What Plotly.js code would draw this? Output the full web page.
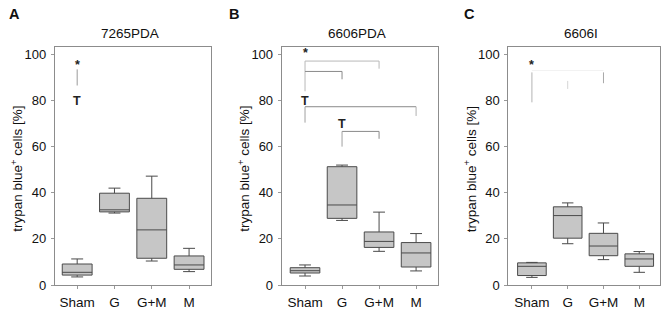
<!DOCTYPE html>
<html>
<head>
<meta charset="utf-8">
<script src="https://cdn.plot.ly/plotly-3.0.1.min.js"></script>
<style>html,body{margin:0;padding:0;background:#fff;}#chart{width:669px;height:311px;}</style>
</head>
<body>
<div id="chart"></div>
<script>
// ---- data ----
var categories = ["Sham", "G", "G+M", "M"];
var panelTitles = ["7265PDA", "6606PDA", "6606I"];
var panelLetters = ["A", "B", "C"];
var yTickVals = [0, 20, 40, 60, 80, 100];

// Panel A (7265PDA)
var A_lower  = [3.5, 31.2, 10.4, 5.8];
var A_q1     = [4.3, 31.7, 11.6, 6.8];
var A_median = [5.5, 32.6, 23.9, 8.7];
var A_q3     = [9.1, 39.8, 37.6, 12.6];
var A_upper  = [11.3, 42.0, 47.2, 15.9];

// Panel B (6606PDA)
var B_lower  = [3.9, 28.0, 14.6, 6.1];
var B_q1     = [5.2, 28.9, 16.3, 7.8];
var B_median = [6.2, 34.7, 18.9, 13.9];
var B_q3     = [7.5, 51.3, 23.0, 18.4];
var B_upper  = [8.7, 52.0, 31.6, 22.3];

// Panel C (6606I)
var C_lower  = [3.3, 17.9, 11.0, 5.5];
var C_q1     = [4.1, 20.3, 12.7, 8.1];
var C_median = [8.1, 30.1, 16.9, 11.3];
var C_q3     = [9.6, 33.9, 22.4, 13.5];
var C_upper  = [9.8, 35.6, 26.9, 14.5];

// significance marks: [panel, category, y, text]
var sigLabels = [
  [0, "Sham", 95.5, "*"], [0, "Sham", 80, "T"],
  [1, "Sham", 100.5, "*"], [1, "Sham", 80, "T"], [1, "G", 69.8, "T"],
  [2, "Sham", 95.5, "*"]
];
// bracket segments: [panel, x0, y0, x1, y1, colour]
var bracketSegs = [
  [0, "Sham", 93.5, "Sham", 86.5, "#9a9a9a"],
  [1, "Sham", 97.1, "G+M", 97.1, "#b8b8b8"],
  [1, "G+M", 97.1, "G+M", 93.8, "#b8b8b8"],
  [1, "Sham", 97.1, "Sham", 84.0, "#b8b8b8"],
  [1, "Sham", 92.6, "G", 92.6, "#8a8a8a"],
  [1, "G", 92.6, "G", 89.2, "#8a8a8a"],
  [1, "Sham", 77.3, "M", 77.3, "#8a8a8a"],
  [1, "M", 77.3, "M", 73.3, "#b0b0b0"],
  [1, "Sham", 77.3, "Sham", 70.4, "#a0a0a0"],
  [1, "G", 66.6, "G+M", 66.6, "#8a8a8a"],
  [1, "G", 66.6, "G", 60.0, "#a0a0a0"],
  [1, "G+M", 66.6, "G+M", 63.4, "#8a8a8a"],
  [2, "Sham", 92.2, "Sham", 79.2, "#b4b4b4"],
  [2, "Sham", 93.0, "G+M", 93.0, "#f2f2f2"],
  [2, "G", 88.5, "G", 85.0, "#d6d6d6"],
  [2, "G+M", 92.2, "G+M", 87.5, "#a8a8a8"]
];

var stats = [
  [A_lower, A_q1, A_median, A_q3, A_upper],
  [B_lower, B_q1, B_median, B_q3, B_upper],
  [C_lower, C_q1, C_median, C_q3, C_upper]
];

// ---- layout geometry ----
var W = 669, H = 311;
var xPix = [[54.8, 210.7], [281.7, 438.3], [508.3, 660.0]];
var yTop = 47, yBot = 285;
var xRanges = [[-0.6, 3.58], [-0.63, 3.6], [-0.66, 3.58]];

var traces = [];
var layout = {
  width: W, height: H,
  margin: {l: 0, r: 0, t: 0, b: 0},
  paper_bgcolor: "#ffffff", plot_bgcolor: "#ffffff",
  showlegend: false,
  font: {family: "Liberation Sans, Arial, sans-serif", color: "#111"},
  annotations: [], shapes: []
};

for (var p = 0; p < 3; p++) {
  var sfx = p === 0 ? "" : String(p + 1);
  var s = stats[p];
  traces.push({
    type: "box",
    x: categories,
    lowerfence: s[0], q1: s[1], median: s[2], q3: s[3], upperfence: s[4],
    xaxis: "x" + sfx, yaxis: "y" + sfx,
    width: 0.8, whiskerwidth: 0.4,
    fillcolor: "#c6c6c6",
    line: {color: "#4a4a4a", width: 1},
    boxpoints: false, hoverinfo: "skip"
  });
  layout["xaxis" + sfx] = {
    domain: [xPix[p][0] / W, xPix[p][1] / W],
    anchor: "y" + sfx,
    type: "category", categoryorder: "array", categoryarray: categories,
    range: xRanges[p],
    showline: true, mirror: true, linecolor: "#8c8c8c", linewidth: 1,
    ticks: "outside", ticklen: 3, tickcolor: "#999", tickwidth: 1,
    ticklabelstandoff: 2,
    showgrid: false, zeroline: false,
    tickfont: {size: 13.5, color: "#111"}
  };
  layout["yaxis" + sfx] = {
    domain: [1 - yBot / H, 1 - yTop / H],
    anchor: "x" + sfx,
    range: [0, 103.2],
    tickvals: yTickVals,
    showline: true, mirror: true, linecolor: "#8c8c8c", linewidth: 1,
    ticks: "outside", ticklen: 3, tickcolor: "#999", tickwidth: 1,
    ticklabelstandoff: 2,
    showgrid: false, zeroline: false,
    tickfont: {size: 13, color: "#111"}
  };

  // panel title
  layout.annotations.push({
    text: panelTitles[p], xref: "paper", yref: "paper",
    x: (xPix[p][0] + xPix[p][1]) / 2 / W - 3 / W, y: 1 - 33 / H,
    xanchor: "center", yanchor: "middle", showarrow: false,
    font: {size: 13.5, color: "#111"}
  });
  // y axis title
  layout.annotations.push({
    text: "trypan blue<sup>+</sup> cells [%]", xref: "paper", yref: "paper",
    x: (xPix[p][0] - 38) / W, y: 1 - 169 / H, textangle: -90,
    xanchor: "center", yanchor: "middle", showarrow: false,
    font: {size: 13.5, color: "#111"}
  });
}

var letterX = [14, 234, 469];
for (var i = 0; i < 3; i++) {
  layout.annotations.push({
    text: panelLetters[i], xref: "paper", yref: "paper",
    x: letterX[i] / W, y: 1 - 14 / H, xanchor: "center", yanchor: "middle",
    showarrow: false, font: {size: 14.5, color: "#111", weight: "bold"}
  });
}

sigLabels.forEach(function (m) {
  var sfx = m[0] === 0 ? "" : String(m[0] + 1);
  layout.annotations.push({
    text: m[3], xref: "x" + sfx, yref: "y" + sfx,
    x: m[1], y: m[2], xanchor: "center", yanchor: "middle",
    showarrow: false, font: {size: 12.5, color: "#222", weight: "bold"}
  });
});

bracketSegs.forEach(function (b) {
  var sfx = b[0] === 0 ? "" : String(b[0] + 1);
  layout.shapes.push({
    type: "line", xref: "x" + sfx, yref: "y" + sfx,
    x0: b[1], y0: b[2], x1: b[3], y1: b[4],
    line: {color: b[5], width: 1}
  });
});

Plotly.newPlot("chart", traces, layout, {staticPlot: true, displayModeBar: false});
</script>
</body>
</html>
